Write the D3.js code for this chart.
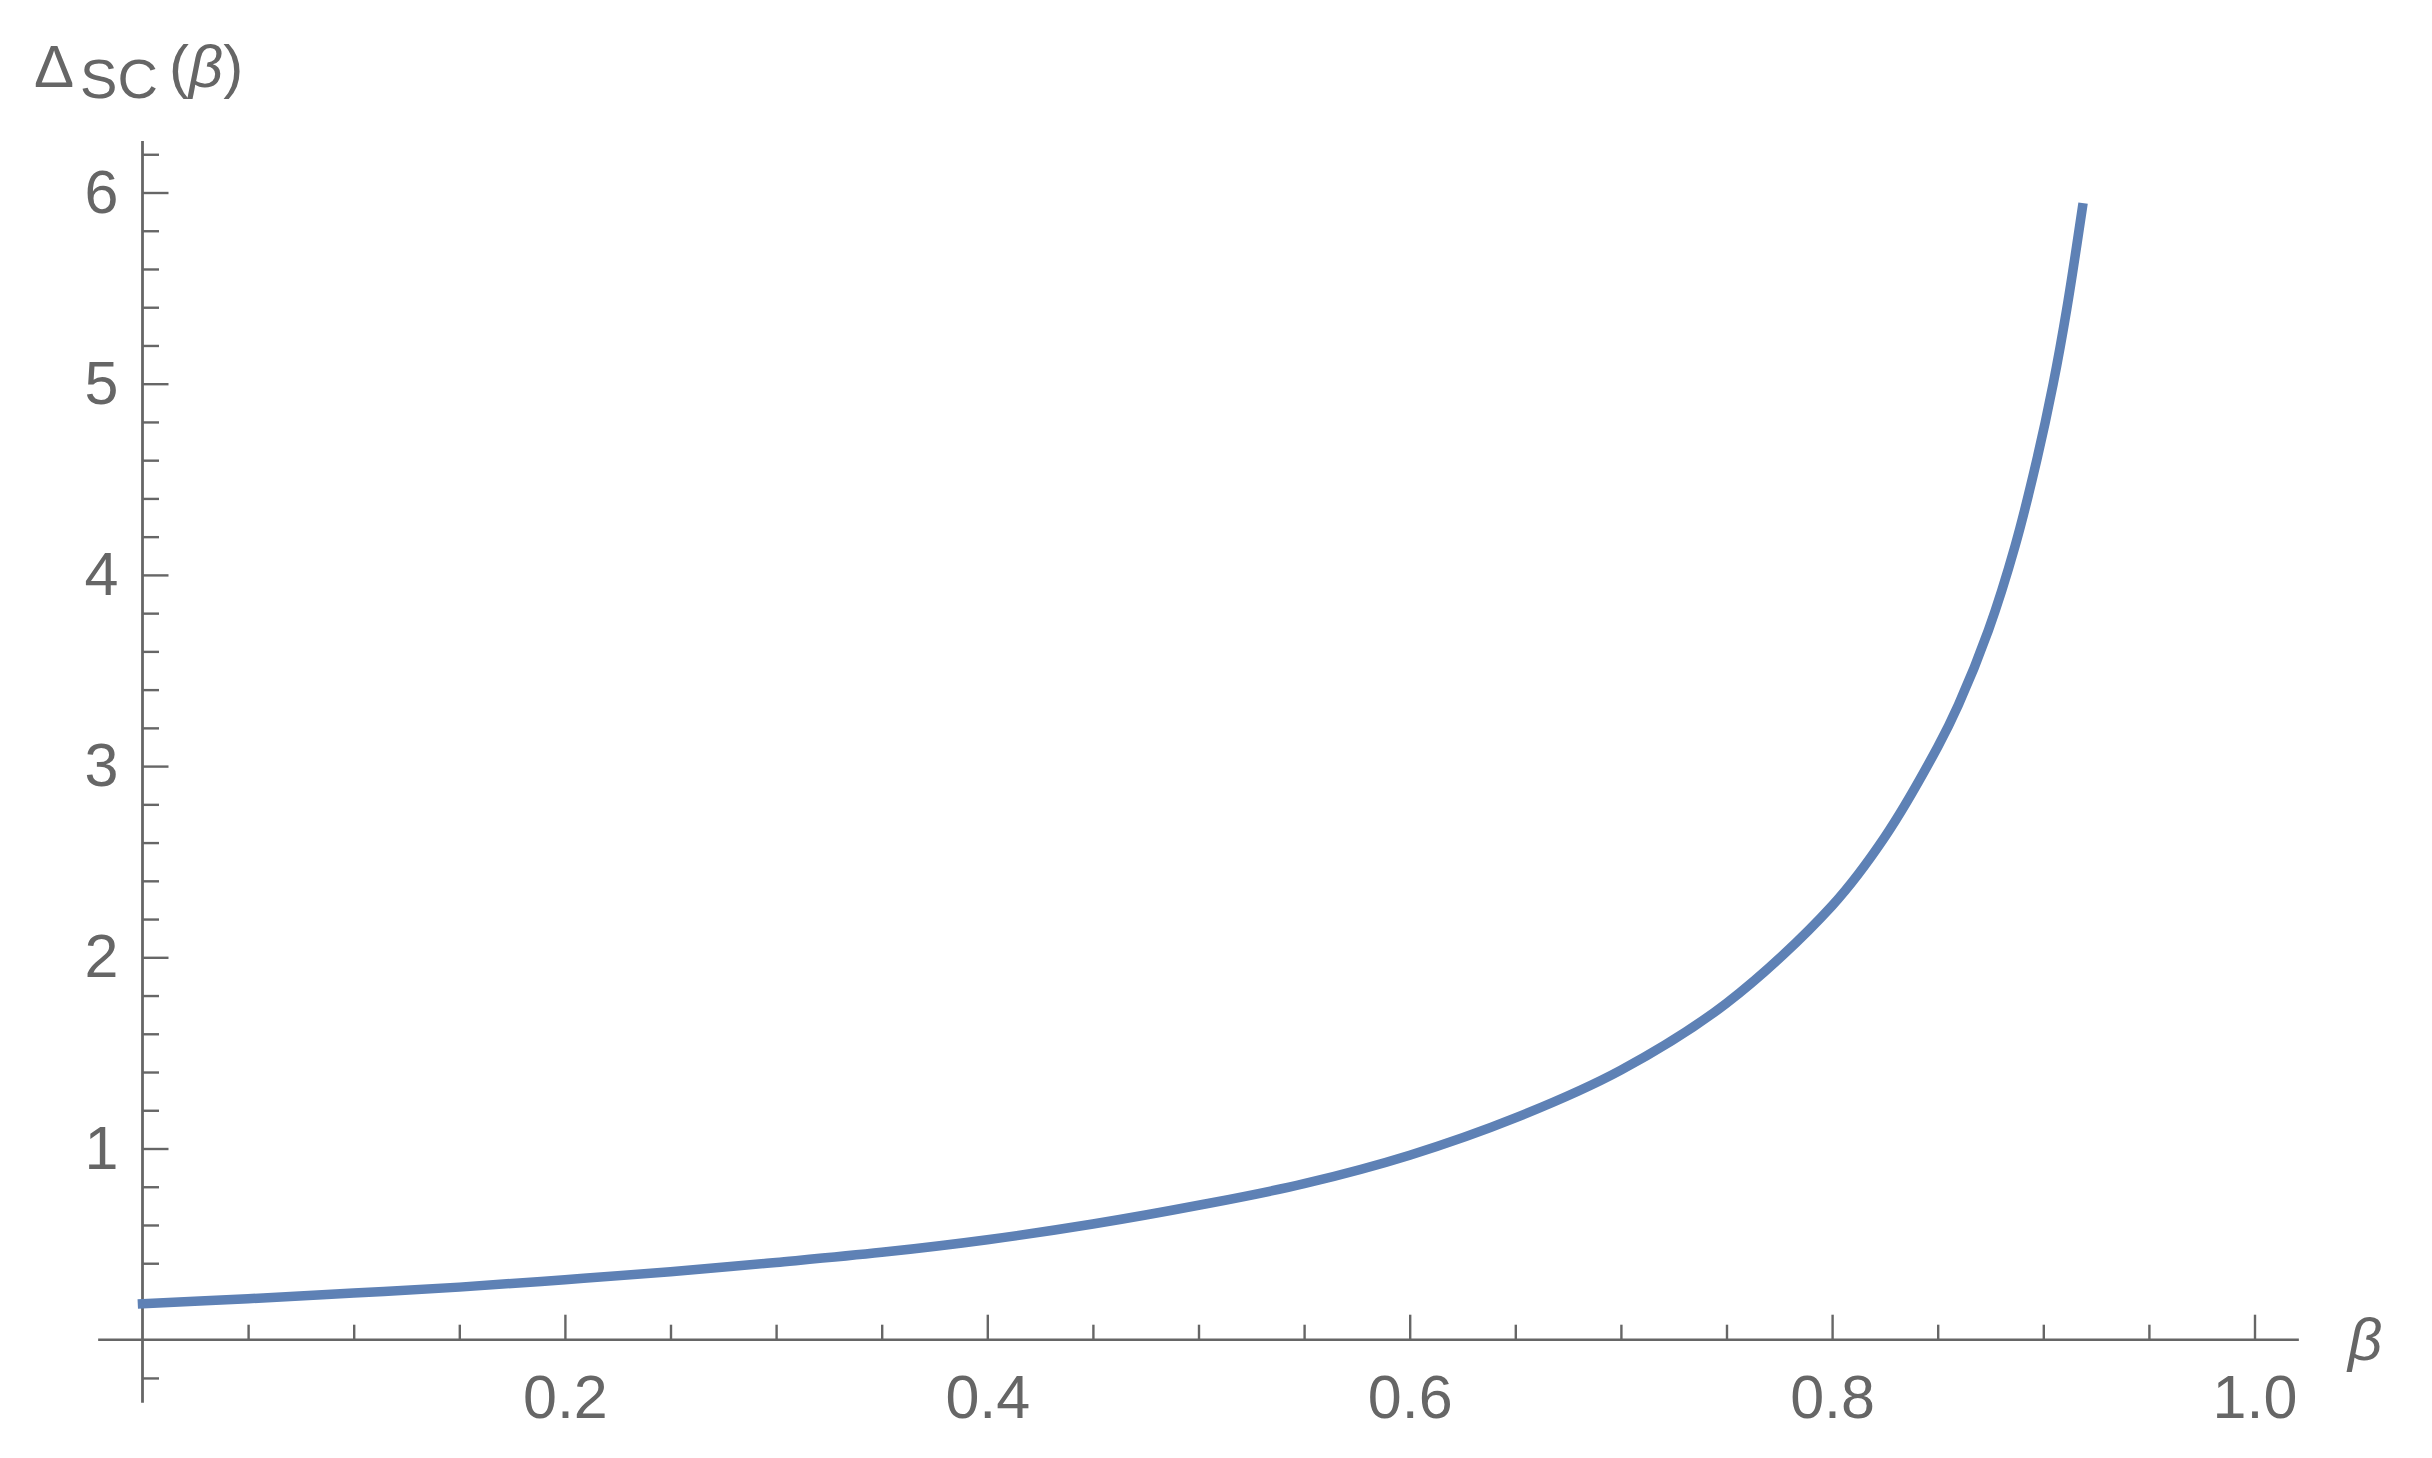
<!DOCTYPE html>
<html>
<head>
<meta charset="utf-8">
<script src="https://cdn.jsdelivr.net/npm/d3@7"></script>
<style>
  html, body { margin: 0; padding: 0; background: #fff; }
  svg { display: block; }
  text { font-family: "Liberation Sans", Arial, sans-serif; fill: #666; }
</style>
</head>
<body>
<svg id="chart" width="2432" height="1458"></svg>
<script>
// ---- data ----
const betaValues  = [0, 0.05, 0.1, 0.15, 0.2, 0.25, 0.3, 0.35, 0.4, 0.45, 0.5, 0.55, 0.6, 0.65, 0.7, 0.75, 0.8,
                     0.825, 0.85, 0.8598, 0.874, 0.8866, 0.8969, 0.9047, 0.9111, 0.9185];
const deltaValues = [0.188, 0.214, 0.244, 0.275, 0.314, 0.355, 0.404, 0.457, 0.523, 0.605, 0.703, 0.816, 0.965, 1.16, 1.41, 1.76, 2.27,
                     2.63, 3.10, 3.32, 3.71, 4.15, 4.60, 5.00, 5.39, 5.92];

const xMajorTicks = [0.2, 0.4, 0.6, 0.8, 1.0];
const xTickLabels = ["0.2", "0.4", "0.6", "0.8", "1.0"];
const xMinorTicks = [0.05, 0.1, 0.15, 0.25, 0.3, 0.35, 0.45, 0.5, 0.55, 0.65, 0.7, 0.75, 0.85, 0.9, 0.95];
const yMajorTicks = [1, 2, 3, 4, 5, 6];
const yTickLabels = ["1", "2", "3", "4", "5", "6"];
const yMinorTicks = [-0.2, 0.2, 0.4, 0.6, 0.8, 1.2, 1.4, 1.6, 1.8, 2.2, 2.4, 2.6, 2.8, 3.2, 3.4, 3.6, 3.8,
                     4.2, 4.4, 4.6, 4.8, 5.2, 5.4, 5.6, 5.8, 6.2];
const xAxisExtent = [-0.021, 1.021];
const yAxisExtent = [-0.33, 6.27];

// ---- layout ----
const svg = d3.select("#chart");
const x = d3.scaleLinear().domain([0, 1]).range([142.5, 2254.5]);
const y = d3.scaleLinear().domain([0, 6]).range([1339.7, 192.5]);
const axisColor = "#666";

svg.append("line")
  .attr("x1", x(xAxisExtent[0])).attr("x2", x(xAxisExtent[1]))
  .attr("y1", y(0)).attr("y2", y(0))
  .attr("stroke", axisColor).attr("stroke-width", 2.5);
svg.append("line")
  .attr("x1", x(0)).attr("x2", x(0))
  .attr("y1", y(yAxisExtent[0])).attr("y2", y(yAxisExtent[1]))
  .attr("stroke", axisColor).attr("stroke-width", 2.8);

function styleAxis(g) {
  g.select(".domain").remove();
  g.selectAll(".tick line").attr("stroke", axisColor).attr("stroke-width", 2.4);
  g.selectAll(".tick text").attr("fill", "#666").style("font-size", "61px")
    .style("font-family", '"Liberation Sans", Arial, sans-serif');
}

svg.append("g").attr("transform", `translate(0,${y(0)})`)
  .call(d3.axisBottom(x).tickValues(xMinorTicks).tickSize(-15).tickFormat(""))
  .call(styleAxis);
svg.append("g").attr("transform", `translate(0,${y(0)})`)
  .call(d3.axisBottom(x).tickValues(xMajorTicks).tickSize(-25).tickPadding(35)
    .tickFormat((d, i) => xTickLabels[i]))
  .call(styleAxis);

svg.append("g").attr("transform", `translate(${x(0)},0)`)
  .call(d3.axisLeft(y).tickValues(yMinorTicks).tickSize(-16.5).tickFormat(""))
  .call(styleAxis);
svg.append("g").attr("transform", `translate(${x(0)},0)`)
  .call(d3.axisLeft(y).tickValues(yMajorTicks).tickSize(-26).tickPadding(24)
    .tickFormat((d, i) => yTickLabels[i]))
  .call(styleAxis);

const data = betaValues.map((b, i) => ({ b, v: deltaValues[i] }));
const line = d3.line().x(d => x(d.b)).y(d => y(d.v)).curve(d3.curveCatmullRom.alpha(0.5));
svg.append("path")
  .datum(data)
  .attr("d", line)
  .attr("fill", "none")
  .attr("stroke", "#5E81B5")
  .attr("stroke-width", 9.5)
  .attr("stroke-linecap", "square");

// axis labels
const yl = svg.append("text").attr("x", 34).attr("y", 87).style("font-size", "60px");
yl.append("tspan").text("Δ");
yl.append("tspan").attr("dx", 6).attr("dy", 11).style("font-size", "56px").text("SC");
yl.append("tspan").attr("dx", 11).attr("dy", -11).text("(");
yl.append("tspan").style("font-style", "italic").text("β");
yl.append("tspan").text(")");

svg.append("text").attr("x", 2348).attr("y", 1360)
  .style("font-size", "60px").style("font-style", "italic").text("β");
</script>
</body>
</html>
